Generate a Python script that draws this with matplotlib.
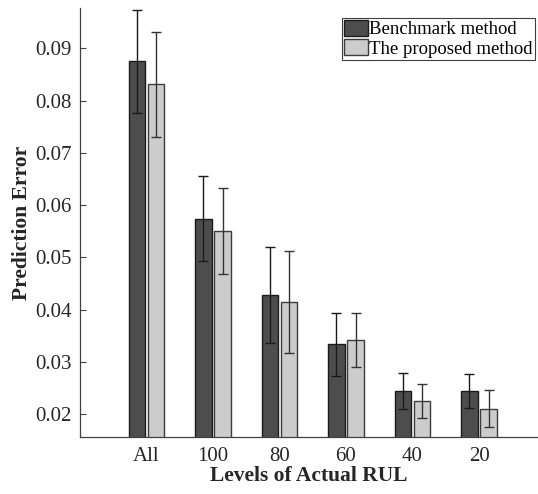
import numpy as np
import matplotlib
matplotlib.use("Agg")
import matplotlib.pyplot as plt

# data
levels = ["All", "100", "80", "60", "40", "20"]
bench_mean = [0.0875, 0.0574, 0.0428, 0.0334, 0.0245, 0.0245]
bench_err = [0.0098, 0.0081, 0.0091, 0.0060, 0.0034, 0.0033]
prop_mean = [0.0831, 0.0550, 0.0415, 0.0342, 0.0225, 0.0211]
prop_err = [0.0101, 0.0082, 0.0097, 0.0051, 0.0033, 0.0036]

plt.rcParams["font.family"] = ["Liberation Serif", "DejaVu Serif"]

fig = plt.figure(figsize=(5.38, 4.94), dpi=100)
ax = fig.add_axes([80/538, 57/494, 458/538, 429/494])

x = np.arange(1, len(levels) + 1)
off, w = 0.143, 0.247
ax.bar(x - off, bench_mean, width=w, color="#4d4d4d", edgecolor="#1a1a1a",
       linewidth=1.0, label="Benchmark method", zorder=2)
ax.bar(x + off, prop_mean, width=w, color="#cccccc", edgecolor="#3c3c3c",
       linewidth=1.0, label="The proposed method", zorder=2)
ax.errorbar(x - off, bench_mean, yerr=bench_err, fmt="none", ecolor="#1a1a1a",
            elinewidth=1.0, capsize=3.5, capthick=1.0, zorder=3)
ax.errorbar(x + off, prop_mean, yerr=prop_err, fmt="none", ecolor="#333333",
            elinewidth=1.0, capsize=3.5, capthick=1.0, zorder=3)

ax.set_xlim(0, 458/66.5)
ax.set_ylim(0.01566, 0.0977)
ax.set_xticks(x)
ax.set_xticklabels(levels)
ax.set_yticks([0.02, 0.03, 0.04, 0.05, 0.06, 0.07, 0.08, 0.09])
ax.set_yticklabels(["0.02", "0.03", "0.04", "0.05", "0.06", "0.07", "0.08", "0.09"])
ax.tick_params(axis="y", direction="in", length=4, width=0.8, color="#404040",
               labelsize=15, labelcolor="#262626", pad=6)
ax.tick_params(axis="x", length=0, labelsize=15, labelcolor="#262626", pad=7)

for s in ["top", "right"]:
    ax.spines[s].set_visible(False)
for s in ["left", "bottom"]:
    ax.spines[s].set_color("#404040")
    ax.spines[s].set_linewidth(0.9)

ax.set_xlabel("Levels of Actual RUL", fontsize=15.5, fontweight="bold", color="#262626", labelpad=0)
ax.set_ylabel("Prediction Error", fontsize=15.5, fontweight="bold", color="#262626", labelpad=2)

leg = ax.legend(loc="upper right", bbox_to_anchor=(0.993, 0.977), borderaxespad=0,
                fancybox=False, fontsize=13.5, handlelength=1.25, handleheight=0.95,
                handletextpad=0.1, borderpad=0.1, labelspacing=0.05, framealpha=1)
leg.get_frame().set_edgecolor("#404040")
leg.get_frame().set_linewidth(0.8)

fig.savefig("out.png", dpi=100)
